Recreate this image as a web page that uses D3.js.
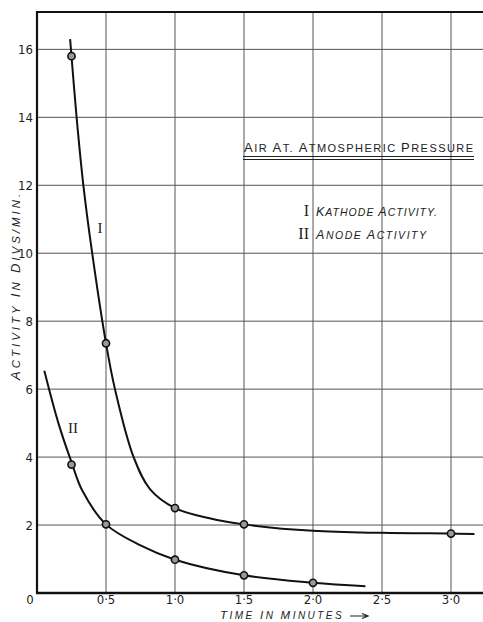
<!DOCTYPE html>
<html><head><meta charset="utf-8">
<script src="https://cdn.jsdelivr.net/npm/d3@7"></script>
<style>
html,body{margin:0;padding:0;background:#fff;}
svg{display:block;}
.num{font-family:"Liberation Sans Narrow","DejaVu Sans Condensed","Liberation Sans",sans-serif;font-size:13px;fill:#222;}
.lab{font-family:"Liberation Sans","DejaVu Sans",sans-serif;fill:#222;}
.rom{font-family:"Liberation Serif","DejaVu Serif",serif;fill:#222;}
</style></head><body>
<svg id="c" width="483" height="622"></svg>
<script>
// Observed points (time in minutes, activity in divs/min)
const kathodeTimes = [0.25, 0.5, 1.0, 1.5, 3.0];
const kathodeValues = [15.8, 7.35, 2.5, 2.02, 1.75];
const anodeTimes = [0.25, 0.5, 1.0, 1.5, 2.0];
const anodeValues = [3.78, 2.02, 0.98, 0.52, 0.3];
// Hand-drawn fitted curves
const kathodeCurveT = [0.24, 0.287, 0.336, 0.40, 0.5, 0.565, 0.70, 0.82, 1.0, 1.25, 1.5, 2.0, 2.5, 3.0, 3.17];
const kathodeCurveV = [16.3, 14.0, 12.0, 10.0, 7.35, 6.0, 4.0, 3.05, 2.5, 2.2, 2.02, 1.83, 1.77, 1.75, 1.74];
const anodeCurveT = [0.053, 0.155, 0.25, 0.33, 0.5, 0.75, 1.0, 1.5, 2.0, 2.38];
const anodeCurveV = [6.54, 5.0, 3.85, 3.0, 2.02, 1.4, 0.98, 0.52, 0.3, 0.2];
const xTicks = [0.5, 1.0, 1.5, 2.0, 2.5, 3.0];
const xTickLabels = ["0·5", "1·0", "1·5", "2·0", "2·5", "3·0"];
const yTicks = [2, 4, 6, 8, 10, 12, 14, 16];
const yTickLabels = ["2", "4", "6", "8", "10", "12", "14", "16"];
const title = "AIR AT. ATMOSPHERIC PRESSURE";
const legendNumerals = ["I", "II"];
const legendTexts = ["KATHODE ACTIVITY.", "ANODE ACTIVITY"];
const xTitle = "TIME IN MINUTES";
const yTitle = "ACTIVITY IN DIVS/MIN.";

const svg = d3.select("#c");
const x = d3.scaleLinear().domain([0, 3.25]).range([37, 485.5]);
const y = d3.scaleLinear().domain([0, 17.1]).range([593, 12]);

// grid
svg.append("g").selectAll("line").data(xTicks).join("line")
  .attr("x1", d => x(d)).attr("x2", d => x(d)).attr("y1", y(0)).attr("y2", y(17.1))
  .attr("stroke", "#555").attr("stroke-width", 1);
svg.append("g").selectAll("line").data(yTicks).join("line")
  .attr("x1", x(0)).attr("x2", 483).attr("y1", d => y(d)).attr("y2", d => y(d))
  .attr("stroke", "#555").attr("stroke-width", 1);
// frame
svg.append("path").attr("d", `M${x(0)},${y(0)}V${y(17.1)}H483`)
  .attr("fill", "none").attr("stroke", "#111").attr("stroke-width", 2.2);
svg.append("line").attr("x1", x(0) - 1).attr("x2", 483).attr("y1", y(0)).attr("y2", y(0))
  .attr("stroke", "#111").attr("stroke-width", 2.5);

// tick labels
svg.append("g").selectAll("text").data(yTicks).join("text").attr("class", "num")
  .attr("x", 33).attr("y", d => y(d) + 5).attr("text-anchor", "end")
  .text((d, i) => yTickLabels[i]);
svg.append("g").selectAll("text").data(xTicks).join("text").attr("class", "num")
  .attr("x", d => x(d)).attr("y", 604).attr("text-anchor", "middle")
  .text((d, i) => xTickLabels[i]);
svg.append("text").attr("class", "num").attr("x", 30).attr("y", 604).attr("text-anchor", "middle").text("0");

// curves
const line = d3.line().x(d => x(d[0])).y(d => y(d[1])).curve(d3.curveCatmullRom.alpha(0.5));
svg.append("path").datum(kathodeCurveT.map((t, i) => [t, kathodeCurveV[i]]))
  .attr("d", line).attr("fill", "none").attr("stroke", "#111").attr("stroke-width", 2);
svg.append("path").datum(anodeCurveT.map((t, i) => [t, anodeCurveV[i]]))
  .attr("d", line).attr("fill", "none").attr("stroke", "#111").attr("stroke-width", 2);

// points
const pts = kathodeTimes.map((t, i) => [t, kathodeValues[i]])
  .concat(anodeTimes.map((t, i) => [t, anodeValues[i]]));
svg.append("g").selectAll("circle").data(pts).join("circle")
  .attr("cx", d => x(d[0])).attr("cy", d => y(d[1])).attr("r", 3.6)
  .attr("fill", "#999").attr("stroke", "#111").attr("stroke-width", 1.6);

// curve labels
svg.append("text").attr("class", "rom").attr("x", 100).attr("y", 233).attr("text-anchor", "middle")
  .attr("font-size", 15).text(legendNumerals[0]);
svg.append("text").attr("class", "rom").attr("x", 73).attr("y", 433).attr("text-anchor", "middle")
  .attr("font-size", 15).text(legendNumerals[1]);

// caps text: larger initial letters, fitted to a target width via letter-spacing
function capsText(g, str, big, small, width, italic) {
  const t = g.append("text").attr("class", "lab");
  if (italic) t.style("font-style", "italic");
  str.split(" ").forEach((w, wi) => {
    if (wi > 0) t.append("tspan").attr("font-size", small).text(" ");
    t.append("tspan").attr("font-size", big).text(w[0]);
    if (w.length > 1) t.append("tspan").attr("font-size", small).text(w.slice(1));
  });
  const len = t.node().getBBox().width;
  const n = str.length - 1;
  const ls = Math.max(-1, Math.min(3, (width - len) / n));
  t.style("letter-spacing", ls + "px");
  return t;
}

// title
const tg = svg.append("g").attr("transform", "translate(244,152)");
capsText(tg, title, 13, 11, 229, false);
svg.append("line").attr("x1", 243).attr("x2", 474).attr("y1", 156.5).attr("y2", 156.5).attr("stroke", "#222").attr("stroke-width", 1.2);
svg.append("line").attr("x1", 243).attr("x2", 474).attr("y1", 159.5).attr("y2", 159.5).attr("stroke", "#222").attr("stroke-width", 1.2);

// legend
[216, 239].forEach((yy, i) => {
  svg.append("text").attr("class", "rom").attr("x", 309).attr("y", yy).attr("text-anchor", "end")
    .attr("font-size", 16).text(legendNumerals[i]);
  const lg = svg.append("g").attr("transform", `translate(316,${yy})`);
  capsText(lg, legendTexts[i], 12.5, 10.5, i === 0 ? 121 : 112, true);
});

// axis titles
const xg = svg.append("g").attr("transform", "translate(220,619)");
capsText(xg, xTitle, 11.5, 10, 122, true);
svg.append("path").attr("d", "M350,616H367M362,613.5L368,616L362,618.5").attr("fill", "none").attr("stroke", "#222").attr("stroke-width", 1.2);
const yg = svg.append("g").attr("transform", "translate(20,380) rotate(-90)");
capsText(yg, yTitle, 13, 11.5, 205, true);
</script>
</body></html>
